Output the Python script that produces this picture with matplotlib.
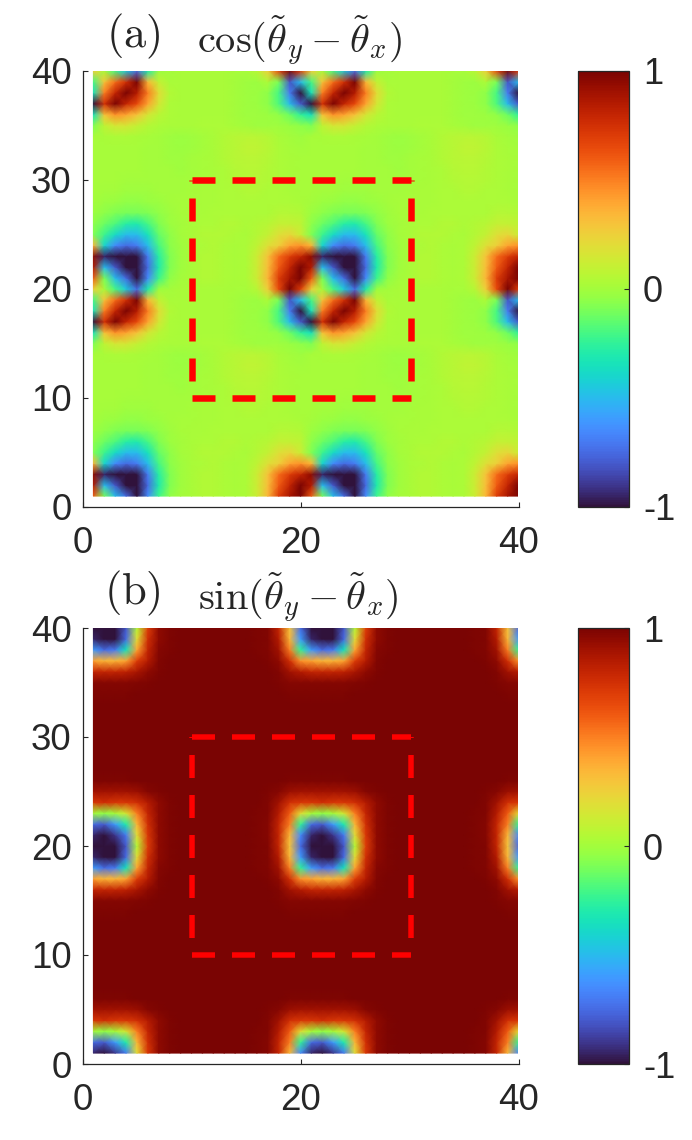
import numpy as np
import matplotlib
matplotlib.use('Agg')
import matplotlib.pyplot as plt

plt.rcParams['font.family'] = ['Liberation Sans', 'DejaVu Sans']
plt.rcParams['mathtext.fontset'] = 'cm'
plt.rcParams['axes.unicode_minus'] = False
plt.rcParams['lines.scale_dashes'] = False

# one period of the lattice, x = 1..20 along a row, top row is y = 20
cos_cell = [
    [.25, .02, -.20, -.45, -.75, -.30, -.02, .00, .02, .02, .02, .02, .02, .01, .01, .06, .25, .65, 1.0, .70],
    [-.20, .30, .55, .75, 1.0, .35, .10, .02, .02, .02, .02, .02, .02, .00, -.01, -.02, .03, -.10, -.80, -.50],
    [-.35, .50, .80, 1.0, .85, .50, .20, .04, .02, .02, .02, .02, .02, .00, -.01, -.02, -.05, -.20, -.70, -1.0],
    [-1.0, .75, 1.0, .80, .65, .40, .15, .03, .02, .02, .02, .02, .02, .00, -.01, -.02, -.05, -.18, -.50, -.80],
    [-.35, .30, .45, .40, .30, .15, .07, .03, .02, .02, .02, .02, .02, .00, -.01, -.01, -.02, -.04, -.12, -.25],
    [-.08, .08, .15, .15, .10, .05, .03, .02, .02, .02, .03, .03, .03, .01, .00, -.01, -.01, -.01, -.03, -.05],
    [.01, .02, .03, .03, .02, .01, .00, -.01, -.02, -.01, .00, .02, .04, .06, .07, .07, .05, .02, .00, -.01],
    [.01, .01, .01, .01, .01, .00, .00, -.01, -.02, -.01, .00, .02, .04, .06, .08, .08, .06, .03, .01, .00],
    [.01, .01, .01, .01, .01, .00, .00, -.01, -.01, .00, .01, .02, .04, .06, .07, .07, .05, .03, .02, .01],
    [.01, .01, .01, .01, .01, .00, .00, .00, -.01, .00, .01, .02, .03, .05, .06, .06, .04, .03, .02, .01],
    [.01, .01, .01, .00, .00, .00, .00, .00, .00, .00, .01, .02, .03, .04, .05, .05, .04, .03, .02, .01],
    [.01, .00, .00, -.01, -.01, -.01, .00, .00, .00, .01, .02, .02, .03, .03, .04, .04, .03, .03, .02, .01],
    [.00, -.02, -.03, -.04, -.04, -.03, -.02, .00, .01, .01, .02, .02, .03, .03, .03, .03, .03, .03, .03, .02],
    [-.02, -.05, -.08, -.10, -.10, -.08, -.04, -.01, .01, .02, .02, .03, .03, .03, .03, .03, .03, .05, .05, .04],
    [-.05, -.12, -.18, -.28, -.30, -.20, -.08, -.02, .00, .02, .03, .03, .04, .04, .03, .04, .06, .10, .10, .08],
    [-.08, -.22, -.38, -.50, -.50, -.35, -.14, -.05, .00, .02, .04, .04, .04, .03, .02, .05, .10, .18, .22, .12],
    [.35, -.40, -.65, -.75, -.70, -.50, -.20, -.06, -.01, .02, .03, .04, .03, .02, .03, .08, .18, .25, .40, .45],
    [.95, -.95, -1.0, -1.0, -1.0, -.70, -.28, -.08, -.01, .02, .04, .04, .03, .02, .03, .12, .30, .55, .70, .80],
    [.85, -.50, -.80, -1.0, -1.0, -.75, -.30, -.08, -.01, .02, .04, .04, .03, .02, .03, .12, .32, .60, .80, 1.0],
    [.60, -.10, -.50, -.75, -1.0, -.65, -.22, -.05, .00, .02, .04, .04, .03, .02, .03, .12, .35, .70, .88, 1.0],
]

sin_cell = [
    [-1, -1, -1, -.80, .05, .70, .95, .99, 1, 1, 1, 1, 1, 1, 1, .99, .98, .80, .30, -.75],
    [-.95, -1, -1, -.75, .20, .75, .95, .99, 1, 1, 1, 1, 1, 1, 1, .99, .98, .85, .35, -.60],
    [-.60, -.75, -.70, -.35, .40, .80, .97, .99, 1, 1, 1, 1, 1, 1, 1, .99, .98, .90, .50, -.25],
    [.40, .35, .35, .40, .70, .85, .98, 1, 1, 1, 1, 1, 1, 1, 1, 1, .99, .95, .75, .45],
    [.80, .80, .80, .82, .88, .95, .99, 1, 1, 1, 1, 1, 1, 1, 1, 1, 1, .98, .90, .85],
    [.97, .97, .97, .97, .98, .99, 1, 1, 1, 1, 1, 1, 1, 1, 1, 1, 1, .99, .97, .97],
    [.99, .99, .99, .99, 1, 1, 1, 1, 1, 1, 1, 1, 1, 1, 1, 1, 1, 1, .99, .99],
    [1, 1, 1, 1, 1, 1, 1, 1, 1, 1, 1, 1, 1, 1, 1, 1, 1, 1, 1, 1],
    [1, 1, 1, 1, 1, 1, 1, 1, 1, 1, 1, 1, 1, 1, 1, 1, 1, 1, 1, 1],
    [1, 1, 1, 1, 1, 1, 1, 1, 1, 1, 1, 1, 1, 1, 1, 1, 1, 1, 1, 1],
    [1, 1, 1, 1, 1, 1, 1, 1, 1, 1, 1, 1, 1, 1, 1, 1, 1, 1, 1, 1],
    [1, 1, 1, 1, 1, 1, 1, 1, 1, 1, 1, 1, 1, 1, 1, 1, 1, 1, 1, 1],
    [1, 1, 1, 1, 1, 1, 1, 1, 1, 1, 1, 1, 1, 1, 1, 1, 1, 1, 1, 1],
    [1, 1, 1, 1, 1, 1, 1, 1, 1, 1, 1, 1, 1, 1, 1, 1, 1, 1, 1, 1],
    [.99, .99, .99, .99, 1, 1, 1, 1, 1, 1, 1, 1, 1, 1, 1, 1, 1, 1, .99, .99],
    [.90, .90, .90, .90, .92, .97, .99, 1, 1, 1, 1, 1, 1, 1, 1, 1, .99, .97, .92, .90],
    [.72, .75, .72, .72, .75, .85, .95, .99, 1, 1, 1, 1, 1, 1, 1, 1, .98, .90, .75, .72],
    [.00, -.05, .00, .15, .50, .80, .95, .99, 1, 1, 1, 1, 1, 1, 1, .99, .98, .85, .60, .20],
    [-.75, -.80, -.60, -.30, .35, .75, .95, .99, 1, 1, 1, 1, 1, 1, 1, .99, .97, .80, .50, -.25],
    [-.95, -1, -.90, -.70, .20, .72, .95, .99, 1, 1, 1, 1, 1, 1, 1, .99, .97, .80, .35, -.65],
]

site_x = np.arange(1, 41)
site_y = np.arange(1, 41)
axis_ticks_x = [0, 20, 40]
axis_ticks_y = [0, 10, 20, 30, 40]
cbar_ticks = [-1, 0, 1]
box_left, box_right = 10, 30.15
box_low, box_high = 10, 30

W, H = 692, 1140
DARK = '#262626'


def px_rect(left, top, right, bottom):
    return [left / W, 1 - bottom / H, (right - left) / W, (bottom - top) / H]


def draw_panel(cell, top, bottom, letter, letter_xy, title, title_xy, lw_px):
    ax = fig.add_axes(px_rect(82.5, top, 518.5, bottom))
    z = np.flipud(np.tile(np.array(cell), (2, 2)))
    mesh = ax.pcolormesh(site_x, site_y, z, cmap='turbo', vmin=-1, vmax=1,
                         shading='gouraud', rasterized=True)
    ax.set_xlim(0, 40)
    ax.set_ylim(0, 40)
    ax.set_xticks(axis_ticks_x)
    ax.set_yticks(axis_ticks_y)
    ax.spines['top'].set_visible(False)
    ax.spines['right'].set_visible(False)
    for side in ['left', 'bottom']:
        ax.spines[side].set_color(DARK)
        ax.spines[side].set_linewidth(0.9)
    ax.tick_params(direction='in', length=3.5, width=0.8, color=DARK,
                   labelcolor=DARK, labelsize=26.5)
    ax.tick_params(axis='x', pad=14)
    ax.tick_params(axis='y', pad=8)

    # dashes in points, 23 px on and 17 px off
    on, off = 23 * 0.72, 17 * 0.72
    lw = lw_px * 0.72
    across = (0, (on, off))
    upward = (on, (on, off))
    ax.plot([box_left, box_right], [box_low, box_low], color='red', lw=lw, ls=across)
    ax.plot([box_left, box_right], [box_high, box_high], color='red', lw=lw, ls=across)
    ax.plot([box_left, box_left], [box_low, box_high], color='red', lw=lw, ls=upward)
    ax.plot([box_right, box_right], [box_low, box_high], color='red', lw=lw, ls=upward)

    cax = fig.add_axes(px_rect(577.5, top, 629, bottom))
    cb = fig.colorbar(mesh, cax=cax, ticks=cbar_ticks)
    cb.ax.set_yticklabels(['-1', '0', '1'])
    cb.outline.set_edgecolor(DARK)
    cb.outline.set_linewidth(0.9)
    cb.ax.tick_params(direction='in', length=3.5, width=0.8, color=DARK,
                      labelcolor=DARK, labelsize=26, pad=10)

    fig.text(letter_xy[0] / W, 1 - letter_xy[1] / H, letter, fontsize=32,
             color=DARK, math_fontfamily='cm', ha='center', va='center')
    fig.text(title_xy[0] / W, 1 - title_xy[1] / H, title, fontsize=29,
             color=DARK, math_fontfamily='cm', ha='center', va='center')


fig = plt.figure(figsize=(W / 100, H / 100), dpi=100, facecolor='white')

draw_panel(cos_cell, 71, 507, r'$\mathrm{(a)}$', (133, 36),
           r'$\cos(\tilde{\theta}_y-\tilde{\theta}_x)$', (300, 41), 6.5)
draw_panel(sin_cell, 628, 1064, r'$\mathrm{(b)}$', (132, 593),
           r'$\sin(\tilde{\theta}_y-\tilde{\theta}_x)$', (298, 598), 5.5)

fig.savefig('out.png', dpi=100)
